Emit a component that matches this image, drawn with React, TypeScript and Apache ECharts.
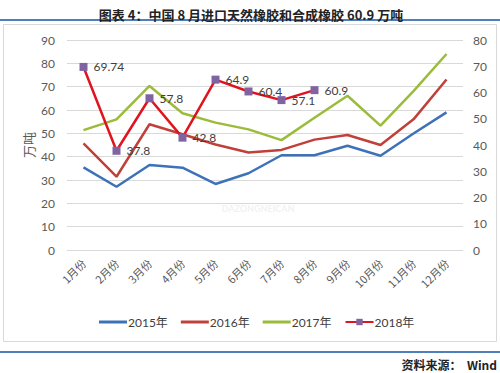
import React, { useEffect, useRef } from "react";
import * as echarts from "echarts";

const categories = ["1月份", "2月份", "3月份", "4月份", "5月份", "6月份", "7月份", "8月份", "9月份", "10月份", "11月份", "12月份"];
const seriesNames = ["2015年", "2016年", "2017年", "2018年"];
const values2015 = [35.4, 27.1, 36.4, 35.3, 28.3, 32.9, 40.6, 40.6, 44.7, 40.4, 49.9, 59.0];
const values2016 = [45.7, 31.4, 53.9, 49.6, 45.2, 41.8, 42.9, 47.3, 49.3, 45.0, 56.0, 73.1];
const values2017 = [51.4, 56.0, 70.3, 58.6, 54.6, 51.7, 47.1, 56.7, 66.1, 53.3, 68.1, 84.0];
const values2018 = [69.74, 37.8, 57.8, 42.8, 64.9, 60.4, 57.1, 60.9];
const leftTicks = { min: 0, max: 90, interval: 10 };
const rightTicks = { min: 0, max: 80, interval: 10 };
const titleText = "图表 4：中国 8 月进口天然橡胶和合成橡胶 60.9 万吨";
const sourceText = "资料来源：  Wind";
const unitText = "万吨";

const NUM_FONT = "Lato, 'Noto Sans', 'Noto Sans CJK SC', sans-serif";
const CJK_FONT = "'Noto Sans CJK SC', sans-serif";
const LINE_ICON = "path://M0,0H28V3H0Z";

export default function App() {
  const ref = useRef<HTMLDivElement>(null);
  useEffect(() => {
    if (!ref.current) return;
    const chart = echarts.init(ref.current, undefined, { renderer: "svg" });
    const lineSeries = (name: string, data: number[], color: string, yAxisIndex: number) => ({
      name,
      type: "line",
      data,
      yAxisIndex,
      symbol: "none",
      showSymbol: false,
      lineStyle: { color, width: 2.5 },
      itemStyle: { color },
      z: 2,
    });
    chart.setOption({
      animation: false,
      backgroundColor: "#ffffff",
      textStyle: { fontFamily: NUM_FONT },
      title: {
        text: titleText,
        left: 246,
        textAlign: "center",
        top: 3,
        textStyle: { fontFamily: CJK_FONT, fontSize: 13, fontWeight: "bold", color: "#222222" },
      },
      graphic: [
        { type: "line", shape: { x1: 0, y1: 20, x2: 500, y2: 20 }, style: { stroke: "#4f7fbb", lineWidth: 2 } },
        { type: "rect", shape: { x: 3.5, y: 24.5, width: 493, height: 317 }, style: { fill: "none", stroke: "#d9d9d9", lineWidth: 1 } },
        { type: "line", shape: { x1: 0, y1: 352, x2: 500, y2: 352 }, style: { stroke: "#4f7fbb", lineWidth: 2 } },
        {
          type: "text",
          x: 497,
          y: 358,
          style: { text: sourceText, align: "right", fill: "#222222", font: "bold 12px 'Noto Sans CJK SC', sans-serif" },
        },
        {
          type: "text",
          x: 258,
          y: 204,
          z: 0,
          style: { text: "DAZONGNEICAN", align: "center", fill: "rgba(200,200,200,0.25)", font: "bold 9px Lato, sans-serif" },
        },
      ],
      legend: {
        data: [
          { name: seriesNames[0], icon: LINE_ICON },
          { name: seriesNames[1], icon: LINE_ICON },
          { name: seriesNames[2], icon: LINE_ICON },
          { name: seriesNames[3] },
        ],
        left: 94,
        top: 311,
        itemWidth: 28,
        itemHeight: 8,
        itemGap: 13,
        symbolKeepAspect: true,
        textStyle: { fontFamily: NUM_FONT, fontSize: 12, color: "#404040", padding: [0, 0, 0, -4] },
      },
      grid: { left: 67, right: 37, top: 40, bottom: 123, containLabel: false },
      xAxis: {
        type: "category",
        data: categories,
        boundaryGap: true,
        axisLine: { show: false },
        axisTick: { show: false },
        axisLabel: { rotate: 45, fontSize: 11, color: "#595959", margin: 11, fontFamily: CJK_FONT, interval: 0 },
      },
      yAxis: [
        {
          type: "value",
          min: leftTicks.min,
          max: leftTicks.max,
          interval: leftTicks.interval,
          name: unitText,
          nameLocation: "middle",
          nameRotate: 90,
          nameGap: 32,
          nameMoveOverlap: false,
          nameTextStyle: { fontFamily: CJK_FONT, fontSize: 13, color: "#595959" },
          axisLine: { show: false },
          axisTick: { show: false },
          axisLabel: { fontSize: 12, color: "#595959", margin: 12 },
          splitLine: { lineStyle: { color: "#d9d9d9", width: 1 } },
        },
        {
          type: "value",
          min: rightTicks.min,
          max: rightTicks.max,
          interval: rightTicks.interval,
          position: "right",
          axisLine: { show: false },
          axisTick: { show: false },
          axisLabel: { fontSize: 12, color: "#595959", margin: 10 },
          splitLine: { show: false },
        },
      ],
      series: [
        lineSeries(seriesNames[0], values2015, "#3d72b8", 0),
        lineSeries(seriesNames[1], values2016, "#c0403a", 0),
        lineSeries(seriesNames[2], values2017, "#9bbb3b", 0),
        {
          name: seriesNames[3],
          type: "line",
          data: values2018,
          yAxisIndex: 1,
          symbol: "rect",
          symbolSize: 8,
          lineStyle: { color: "#e0141e", width: 2.5 },
          itemStyle: { color: "#8064a2" },
          label: {
            show: true,
            position: "right",
            distance: 6,
            fontSize: 12,
            color: "#404040",
            fontFamily: NUM_FONT,
          },
          z: 3,
        },
      ],
    });
    return () => chart.dispose();
  }, []);
  return <div ref={ref} style={{ position: "fixed", left: 0, top: 0, width: 500, height: 373 }} />;
}
